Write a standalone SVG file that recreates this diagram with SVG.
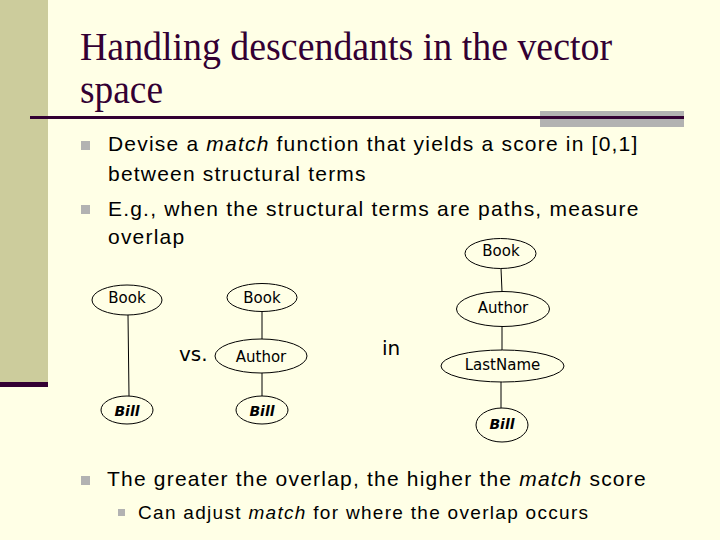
<svg xmlns="http://www.w3.org/2000/svg" width="720" height="540" viewBox="0 0 720 540">
<style>
.title{font-family:"Liberation Serif","Times New Roman",serif;font-size:41px;fill:#330033}
.body{font-family:"Liberation Sans",Arial,sans-serif;font-size:21px;letter-spacing:1.2px;fill:#000}
.sub{font-family:"Liberation Sans",Arial,sans-serif;font-size:19px;letter-spacing:1.3px;fill:#000}
.bul{fill:#b2b2b2}
.node ellipse{fill:none;stroke:#000;stroke-width:1}
.lbl{font-family:"DejaVu Sans",Verdana,sans-serif;font-size:15px;text-anchor:middle;fill:#000}
.bill{font-family:"DejaVu Sans",Verdana,sans-serif;font-size:14px;font-weight:bold;font-style:italic;text-anchor:middle;fill:#000}
.word{font-family:"DejaVu Sans",Verdana,sans-serif;font-size:20px;fill:#000}
#connectors line{stroke:#000;stroke-width:1}
</style>
<rect x="0" y="0" width="720" height="540" fill="#ffffe6"/>
<rect x="0" y="0" width="48" height="382" fill="#cccc9c"/>
<rect x="0" y="382" width="48" height="5" fill="#330033"/>
<rect x="540" y="111" width="144" height="16" fill="#b2b2b2"/>
<rect x="30" y="116" width="654" height="3" fill="#330033"/>
<text class="title" x="80" y="60" textLength="532" lengthAdjust="spacingAndGlyphs">Handling descendants in the vector</text>
<text class="title" x="80" y="103" textLength="83" lengthAdjust="spacingAndGlyphs">space</text>

<rect class="bul" x="81" y="141" width="9" height="9"/>
<text class="body" x="108" y="151">Devise a <tspan font-style="italic">match</tspan> function that yields a score in [0,1]</text>
<text class="body" x="108" y="181">between structural terms</text>
<rect class="bul" x="81" y="205" width="9" height="9"/>
<text class="body" x="108" y="216">E.g., when the structural terms are paths, measure</text>
<text class="body" x="108" y="244">overlap</text>

<g id="connectors">
<line x1="128" y1="315" x2="129" y2="396"/>
<line x1="262" y1="311.5" x2="262" y2="339"/>
<line x1="262" y1="373" x2="262" y2="396"/>
<line x1="501" y1="268.5" x2="502" y2="291.5"/>
<line x1="502" y1="326.5" x2="502" y2="350"/>
<line x1="501" y1="382" x2="501" y2="408"/>
</g>

<g id="n_book1" class="node"><ellipse cx="127" cy="300" rx="35" ry="15"/><text class="lbl" x="127" y="303">Book</text></g>
<g id="n_bill1" class="node"><ellipse cx="127" cy="410" rx="26" ry="14"/><text class="bill" x="127" y="416">Bill</text></g>
<g id="n_book2" class="node"><ellipse cx="262" cy="297.5" rx="35" ry="14"/><text class="lbl" x="262" y="303">Book</text></g>
<g id="n_author2" class="node"><ellipse cx="261" cy="356" rx="46" ry="17"/><text class="lbl" x="261" y="361.5">Author</text></g>
<g id="n_bill2" class="node"><ellipse cx="262" cy="410" rx="26" ry="14"/><text class="bill" x="262" y="416">Bill</text></g>
<g id="n_book3" class="node"><ellipse cx="500.5" cy="253.5" rx="35.5" ry="15"/><text class="lbl" x="501" y="256">Book</text></g>
<g id="n_author3" class="node"><ellipse cx="503" cy="309" rx="46.5" ry="17.5"/><text class="lbl" x="503" y="313">Author</text></g>
<g id="n_lastname3" class="node"><ellipse cx="502.5" cy="366" rx="61.5" ry="16"/><text class="lbl" x="502.5" y="369.5">LastName</text></g>
<g id="n_bill3" class="node"><ellipse cx="502" cy="425" rx="26" ry="17"/><text class="bill" x="502" y="428.5">Bill</text></g>

<text class="word" x="179" y="361">vs.</text>
<text class="word" x="382" y="355">in</text>

<rect class="bul" x="81" y="476" width="9" height="9"/>
<text class="body" x="107" y="486">The greater the overlap, the higher the <tspan font-style="italic">match</tspan> score</text>
<rect class="bul" x="118" y="509" width="7" height="7"/>
<text class="sub" x="138" y="519">Can adjust <tspan font-style="italic">match</tspan> for where the overlap occurs</text>
</svg>
